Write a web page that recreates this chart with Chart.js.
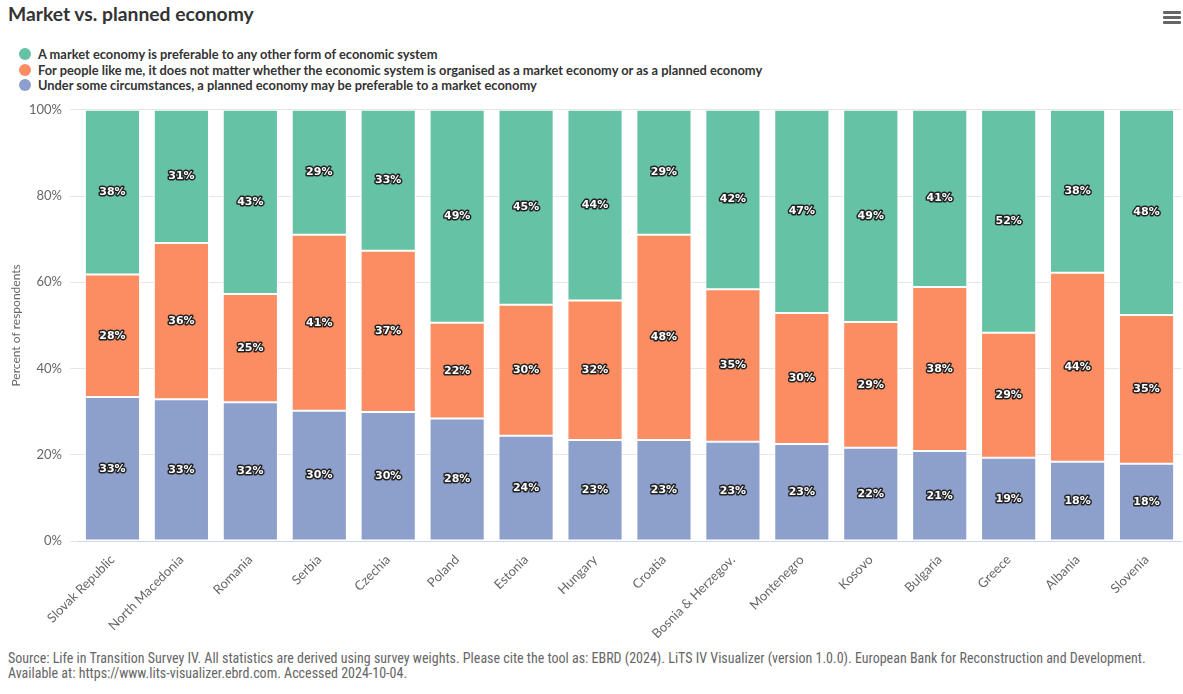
<!DOCTYPE html>
<html>
<head>
<meta charset="utf-8">
<script src="https://cdn.jsdelivr.net/npm/chart.js@4.4.1/dist/chart.umd.min.js"></script>
<style>
  body { margin: 0; background: #fff; font-family: Lato, sans-serif; }
  #wrap { position: relative; width: 1183px; height: 694px; overflow: hidden; }
  #title { position: absolute; left: 8px; top: 2px; font-size: 19.3px; font-weight: bold; color: #333; }
  #menu { position: absolute; left: 1163px; top: 11px; width: 18px; }
  #menu div { height: 3px; background: #666; margin-bottom: 2px; border-radius: 1px; }
  #legend { position: absolute; left: 19px; top: 47px; font-size: 12.85px; font-weight: bold; color: #333; }
  #legend .item { height: 15.5px; line-height: 15.5px; white-space: nowrap; }
  #legend .dot { display: inline-block; width: 12px; height: 12px; border-radius: 50%; vertical-align: -1px; margin-right: 7px; }
  #box { position: absolute; left: 0; top: 94px; width: 1183px; height: 546px; }
  #foot { position: absolute; left: 8px; top: 651px; font-size: 14px; color: #666; line-height: 15px;
          font-family: "Liberation Sans Narrow", "Roboto Condensed", sans-serif; }
</style>
</head>
<body>
<div id="wrap">
  <div id="title">Market vs. planned economy</div>
  <div id="menu"><div></div><div></div><div></div></div>
  <div id="legend"></div>
  <div id="box"><canvas id="marketChart"></canvas></div>
  <div id="foot">Source: Life in Transition Survey IV. All statistics are derived using survey weights. Please cite the tool as: EBRD (2024). LiTS IV Visualizer (version 1.0.0). European Bank for Reconstruction and Development.<br>Available at: https://www.lits-visualizer.ebrd.com. Accessed 2024-10-04.</div>
</div>
<script>
const countries = ["Slovak Republic", "North Macedonia", "Romania", "Serbia", "Czechia", "Poland", "Estonia", "Hungary",
  "Croatia", "Bosnia & Herzegov.", "Montenegro", "Kosovo", "Bulgaria", "Greece", "Albania", "Slovenia"];
const marketPreferable = [38.2, 30.9, 42.7, 29.0, 32.7, 49.4, 45.2, 44.2, 29.0, 41.6, 47.1, 49.2, 41.1, 51.7, 37.8, 47.6];
const doesNotMatter = [28.4, 36.2, 25.1, 40.8, 37.4, 22.2, 30.4, 32.4, 47.6, 35.4, 30.4, 29.2, 38.0, 29.0, 43.8, 34.5];
const plannedPreferable = [33.4, 32.9, 32.2, 30.2, 29.9, 28.4, 24.4, 23.4, 23.4, 23.0, 22.5, 21.6, 20.9, 19.3, 18.4, 17.9];
const yTicks = [0, 20, 40, 60, 80, 100];

// labels inside each segment, white with dark outline
const segmentLabels = {
  id: "segmentLabels",
  afterDatasetsDraw(chart) {
    const ctx = chart.ctx;
    ctx.save();
    ctx.font = "bold 11px 'DejaVu Sans', sans-serif";
    ctx.textAlign = "center";
    ctx.textBaseline = "middle";
    ctx.lineJoin = "round";
    chart.data.datasets.forEach((ds, i) => {
      chart.getDatasetMeta(i).data.forEach((bar, j) => {
        const txt = Math.round(ds.data[j]) + "%";
        const y = (bar.y + bar.base) / 2;
        ctx.strokeStyle = "#222";
        ctx.lineWidth = 3;
        ctx.strokeText(txt, bar.x, y);
        ctx.fillStyle = "#fff";
        ctx.fillText(txt, bar.x, y);
      });
    });
    ctx.restore();
  },
};

const ctx = document.getElementById("marketChart").getContext("2d");
// stacking goes bottom-up, so the planned-economy series comes first
const marketChart = new Chart(ctx, {
  type: "bar",
  data: {
    labels: countries,
    datasets: [
      {
        label: "Under some circumstances, a planned economy may be preferable to a market economy",
        data: plannedPreferable,
        backgroundColor: "#8da0cb",
      },
      {
        label: "For people like me, it does not matter whether the economic system is organised as a market economy or as a planned economy",
        data: doesNotMatter,
        backgroundColor: "#fc8d62",
      },
      {
        label: "A market economy is preferable to any other form of economic system",
        data: marketPreferable,
        backgroundColor: "#66c2a5",
      },
    ],
  },
  options: {
    responsive: true,
    maintainAspectRatio: false,
    animation: false,
    datasets: {
      bar: { categoryPercentage: 0.8, barPercentage: 1, borderColor: "#fff", borderWidth: 1, borderSkipped: false },
    },
    layout: { padding: { left: 5, right: 2, top: 12 } },
    scales: {
      x: {
        stacked: true,
        grid: { display: false },
        border: { color: "#ccd6eb" },
        ticks: { color: "#666", maxRotation: 45, minRotation: 45, autoSkip: false, font: { family: "Lato", size: 13 } },
        afterFit(scale) { scale.height = 99; },
      },
      y: {
        stacked: true,
        min: 0,
        max: 100,
        afterBuildTicks(scale) { scale.ticks = yTicks.map((v) => ({ value: v })); },
        grid: { color: "#e6e6e6" },
        border: { display: false },
        ticks: { color: "#666", padding: 8, font: { family: "Lato", size: 13 }, callback: (v) => v + "%" },
        title: { display: true, text: "Percent of respondents", color: "#666", font: { family: "Lato", size: 12 } },
        afterFit(scale) { scale.width = 73; },
      },
    },
    plugins: {
      legend: { display: false },
      tooltip: { enabled: false },
    },
  },
  plugins: [segmentLabels],
});

// legend in the original order: market, doesn't matter, planned
const legendBox = document.getElementById("legend");
marketChart.data.datasets.slice().reverse().forEach((ds) => {
  const item = document.createElement("div");
  item.className = "item";
  item.innerHTML = '<span class="dot" style="background:' + ds.backgroundColor + '"></span>' + ds.label;
  legendBox.appendChild(item);
});
</script>
</body>
</html>
